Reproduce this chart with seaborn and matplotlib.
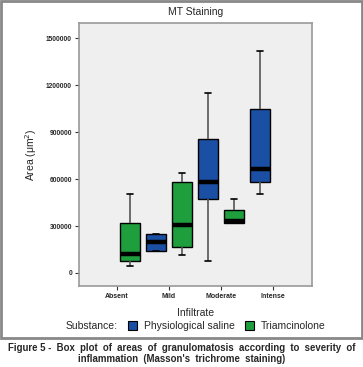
import matplotlib
matplotlib.use("Agg")
import matplotlib.pyplot as plt
import seaborn as sns
import pandas as pd
from matplotlib.patches import Patch, Rectangle

# Five-number summaries (min, Q1, median, Q3, max)
categories = ["Absent", "Mild", "Moderate", "Intense"]
substances = ["Physiological saline", "Triamcinolone"]

saline_mild = [142000, 142000, 197000, 252000, 252000]
saline_moderate = [74000, 475000, 579000, 857000, 1150000]
saline_intense = [505000, 583000, 666000, 1044000, 1415000]

triam_absent = [46000, 78000, 123000, 322000, 503000]
triam_mild = [112000, 167000, 307000, 579000, 640000]
triam_moderate = [322000, 322000, 333000, 401000, 471000]

yticks = [0, 300000, 600000, 900000, 1200000, 1500000]

rows = []
for cat, vals in [("Mild", saline_mild), ("Moderate", saline_moderate), ("Intense", saline_intense)]:
    for v in vals:
        rows.append((cat, substances[0], v))
for cat, vals in [("Absent", triam_absent), ("Mild", triam_mild), ("Moderate", triam_moderate)]:
    for v in vals:
        rows.append((cat, substances[1], v))
df = pd.DataFrame(rows, columns=["Infiltrate", "Substance", "Area"])

sns.set_theme(style="white")
plt.rcParams["font.family"] = ["Liberation Sans", "DejaVu Sans"]

blue = "#1b4fa3"
green = "#1f9e3e"

fig = plt.figure(figsize=(3.63, 3.67), dpi=100)
ax = fig.add_axes([79 / 363, 1 - 286 / 367, 233 / 363, 263 / 367])
ax.set_facecolor("#efefef")

sns.boxplot(data=df, x="Infiltrate", y="Area", hue="Substance",
            order=categories, hue_order=substances,
            palette=[blue, green], width=1.0, gap=0.23,
            whis=(0, 100), saturation=1, legend=False, ax=ax,
            linewidth=1.0, linecolor="black", capwidths=0.13,
            whiskerprops=dict(color="#555555", linewidth=1.2),
            capprops=dict(color="black", linewidth=1.2),
            medianprops=dict(color="black", linewidth=3.2, solid_capstyle="butt"),
            boxprops=dict(edgecolor="black", linewidth=1.0))

ax.set_xlim(-0.73, 3.75)
ax.set_ylim(-83000, 1596000)
ax.set_yticks(yticks)
ax.set_yticklabels([str(t) for t in yticks], fontsize=4.8, fontweight="bold")
ax.set_xticks(range(len(categories)))
ax.set_xticklabels(categories, fontsize=5, fontweight="bold")
ax.tick_params(axis="both", direction="out", length=3, width=0.8, color="#333333", pad=2,
               left=True, bottom=True)
for s in ax.spines.values():
    s.set_color("#999999")
    s.set_linewidth(1.2)

ax.set_xlabel("Infiltrate", fontsize=7.5, labelpad=6)
ax.set_ylabel("Area (\u03bcm$^2$)", fontsize=7.5, labelpad=5)
ax.set_title("MT Staining", fontsize=7.5, pad=6)

# legend
fig.text(66 / 363, 1 - 326 / 367, "Substance:", fontsize=7.5, va="center", ha="left")
handles = [Patch(facecolor=blue, edgecolor="black", linewidth=0.8, label=substances[0]),
           Patch(facecolor=green, edgecolor="black", linewidth=0.8, label=substances[1])]
fig.legend(handles=handles, ncol=2, loc="center left",
           bbox_to_anchor=(128 / 363, 1 - 326 / 367), frameon=False,
           fontsize=7.5, handlelength=0.9, handleheight=0.9, handletextpad=0.6,
           columnspacing=1.0, borderaxespad=0, borderpad=0)

# outer frame
fig.patches.append(Rectangle((1 / 363, 1 - 338 / 367), 361 / 363, 337 / 367,
                             transform=fig.transFigure, fill=False,
                             edgecolor="#888888", linewidth=2))

fig.text(0.5, 1 - 348 / 367,
         "Figure 5 -  Box  plot  of  areas  of  granulomatosis  according  to  severity  of",
         fontsize=6.9, fontweight="bold", ha="center", va="center")
fig.text(0.5, 1 - 358.5 / 367, "inflammation  (Masson's  trichrome  staining)",
         fontsize=6.9, fontweight="bold", ha="center", va="center")

fig.savefig("out.png", dpi=100)
